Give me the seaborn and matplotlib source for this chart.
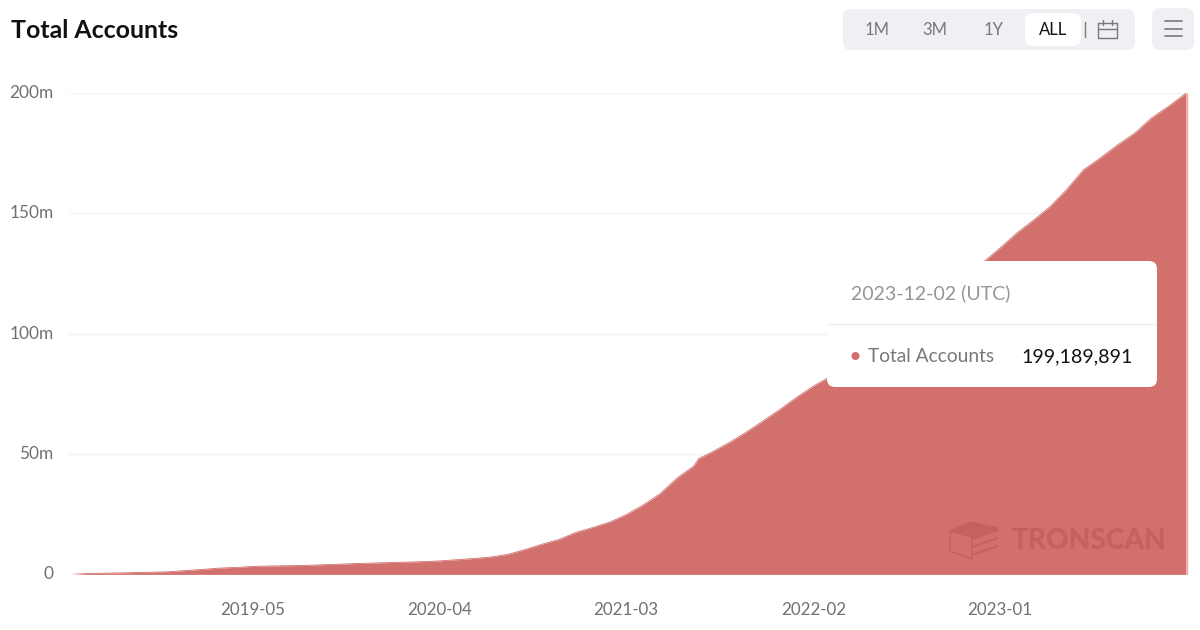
# Total Accounts area chart (TRONSCAN style)
import pandas as pd
import matplotlib
matplotlib.use('Agg')
import matplotlib.pyplot as plt
import matplotlib.transforms as mtrans
import seaborn as sns
from matplotlib.patches import FancyBboxPatch, Rectangle, Circle, Polygon

# data, values in millions of accounts
dates = ['2018-06-10', '2018-07-01', '2018-08-01', '2018-09-01', '2018-10-01', '2018-11-01', '2018-12-01',
         '2019-01-01', '2019-02-01', '2019-03-01', '2019-04-01', '2019-05-01', '2019-06-01', '2019-07-01',
         '2019-08-01', '2019-09-01', '2019-10-01', '2019-11-01', '2019-12-01', '2020-01-01', '2020-02-01',
         '2020-03-01', '2020-04-01', '2020-05-01', '2020-06-01', '2020-07-01', '2020-08-01', '2020-09-01',
         '2020-10-01', '2020-11-01', '2020-12-01', '2021-01-01', '2021-02-01', '2021-03-01', '2021-04-01',
         '2021-05-01', '2021-06-01', '2021-07-01', '2021-07-10', '2021-08-01', '2021-09-01', '2021-10-01',
         '2021-11-01', '2021-12-01', '2022-01-01', '2022-02-01', '2022-03-01', '2022-04-01', '2022-05-01',
         '2022-06-01', '2022-07-01', '2022-08-01', '2022-09-01', '2022-10-01', '2022-11-01', '2022-12-01',
         '2023-01-01', '2023-02-01', '2023-03-01', '2023-04-01', '2023-05-01', '2023-06-01', '2023-07-01',
         '2023-08-01', '2023-09-01', '2023-10-01', '2023-11-01', '2023-12-02']
accounts = [0.0, 0.3, 0.5, 0.6, 0.75, 0.9, 1.1,
            1.6, 2.1, 2.6, 2.9, 3.3, 3.5, 3.6,
            3.7, 4.0, 4.2, 4.5, 4.7, 4.9, 5.1,
            5.3, 5.6, 6.1, 6.6, 7.2, 8.3, 10.3,
            12.5, 14.5, 17.4, 19.5, 21.8, 24.7, 28.8,
            33.4, 40.0, 45.0, 48.1, 50.6, 54.5, 58.7,
            63.5, 68.2, 73.4, 78.2, 81.9, 86.9, 92.3,
            97.3, 103.0, 108.0, 113.0, 118.5, 123.9, 129.3,
            135.3, 141.7, 146.7, 152.5, 159.6, 168.0, 172.9,
            178.3, 183.2, 189.5, 194.4, 199.8]
y_ticks = [0, 50, 100, 150, 200]
y_labels = ['0', '50m', '100m', '150m', '200m']
x_ticks = ['2019-05-01', '2020-04-01', '2021-03-01', '2022-02-01', '2023-01-01']
x_labels = ['2019-05', '2020-04', '2021-03', '2022-02', '2023-01']
ranges = ['1M', '3M', '1Y']
range_x = [877, 935, 994]

RED = '#D2706D'
GREY = '#6F7074'

sns.set_style('white')
plt.rcParams['font.family'] = ['Lato', 'Noto Sans', 'DejaVu Sans']

df = pd.DataFrame({'date': pd.to_datetime(dates), 'accounts': accounts})

fig = plt.figure(figsize=(12, 6.3), dpi=100)
W, H = 1200, 630
ax = fig.add_axes([69 / W, 1 - 574.4 / H, (1186 - 69) / W, (574.4 - 92.7) / H])

# top edge with seaborn, then the area under it
sns.lineplot(data=df, x='date', y='accounts', ax=ax, color=RED, linewidth=0.6, zorder=3)
ax.fill_between(df['date'], 0, df['accounts'], color=RED, linewidth=0, zorder=2)

ax.set_xlim(pd.Timestamp('2018-06-05'), pd.Timestamp('2023-12-02'))
ax.set_ylim(0, 200)
ax.set_xticks(pd.to_datetime(x_ticks))
ax.set_xticklabels(x_labels)
ax.set_yticks(y_ticks)
ax.set_yticklabels(y_labels)
ax.set_xlabel('')
ax.set_ylabel('')
ax.tick_params(axis='x', length=0, pad=20, labelsize=12.2, labelcolor=GREY)
ax.tick_params(axis='y', length=0, pad=11, labelsize=12.4, labelcolor=GREY)
ax.grid(axis='y', color='#F4F4F4', linewidth=1)
ax.set_axisbelow(True)
sns.despine(ax=ax, left=True, bottom=True)

# y labels sit a little above their gridlines
shift = mtrans.ScaledTranslation(0, 1.5 / 100, fig.dpi_scale_trans)
for lab in ax.get_yticklabels():
    lab.set_transform(lab.get_transform() + shift)

# overlay in pixel coordinates for title, buttons, tooltip, watermark
ov = fig.add_axes([0, 0, 1, 1], facecolor='none')
ov.set_xlim(0, W)
ov.set_ylim(H, 0)
ov.axis('off')

ov.text(11, 30.5, 'Total Accounts', fontsize=17.9, fontweight='bold', color='#111111', va='center')

def round_box(x0, y0, x1, y1, r, **kw):
    ov.add_patch(FancyBboxPatch((x0 + r, y0 + r), x1 - x0 - 2 * r, y1 - y0 - 2 * r,
                                boxstyle=f'round,pad={r},rounding_size={r}', linewidth=0, **kw))

# range selector
round_box(843, 9, 1135, 50, 8, facecolor='#EFF0F4')
round_box(1025, 13, 1081, 46, 8, facecolor='white')
for label, x in zip(ranges, range_x):
    ov.text(x, 30, label, fontsize=12, color='#77787C', ha='center', va='center')
ov.text(1053, 30, 'ALL', fontsize=12, color='#111111', ha='center', va='center')
ov.plot([1084.5, 1084.5], [22, 37], color='#77787C', linewidth=1)
# calendar icon
ov.add_patch(Rectangle((1098, 23), 19, 15, fill=False, edgecolor='#77787C', linewidth=1))
ov.plot([1098, 1117], [28.5, 28.5], color='#77787C', linewidth=1)
ov.plot([1103, 1103], [20, 25], color='#77787C', linewidth=1)
ov.plot([1112, 1112], [20, 25], color='#77787C', linewidth=1)
# menu button
round_box(1152, 8, 1194, 50, 8, facecolor='#EFF0F4')
for y in [21, 28.5, 36]:
    ov.plot([1165, 1182], [y, y], color='#77787C', linewidth=1.2)

# watermark
wm = '#C4625F'
ov.text(1012, 541, 'TRONSCAN', fontsize=20.2, fontweight=900, color=wm, va='center')
ov.add_patch(Polygon([(950, 531), (970, 522), (998, 528), (972, 537)], closed=True,
                     facecolor=wm, edgecolor=wm, linewidth=1))
ov.add_patch(Polygon([(950, 531), (972, 537), (972, 559), (950, 551)], closed=True,
                     fill=False, edgecolor=wm, linewidth=1))
for y0 in [537, 545, 553]:
    ov.plot([972, 998], [y0 + 2, y0 - 7], color=wm, linewidth=1.5)

# tooltip
round_box(827, 261, 1157, 387, 8, facecolor='white')
ov.text(851, 293, '2023-12-02 (UTC)', fontsize=14, color='#94959A', va='center')
ov.plot([828, 1156], [324, 324], color='#EFEFEF', linewidth=1)
ov.add_patch(Circle((855.5, 356), 4, facecolor=RED, edgecolor='none'))
ov.text(868, 356.5, 'Total Accounts', fontsize=13.8, color='#77787C', va='center')
ov.text(1133, 356.5, '199,189,891', fontsize=14.1, color='#111111', ha='right', va='center')

# lighter edge on the last day of the series
ov.plot([1186.5, 1186.5], [93, 574], color='#E9A9A6', linewidth=1)

fig.savefig('out.png', dpi=100)
